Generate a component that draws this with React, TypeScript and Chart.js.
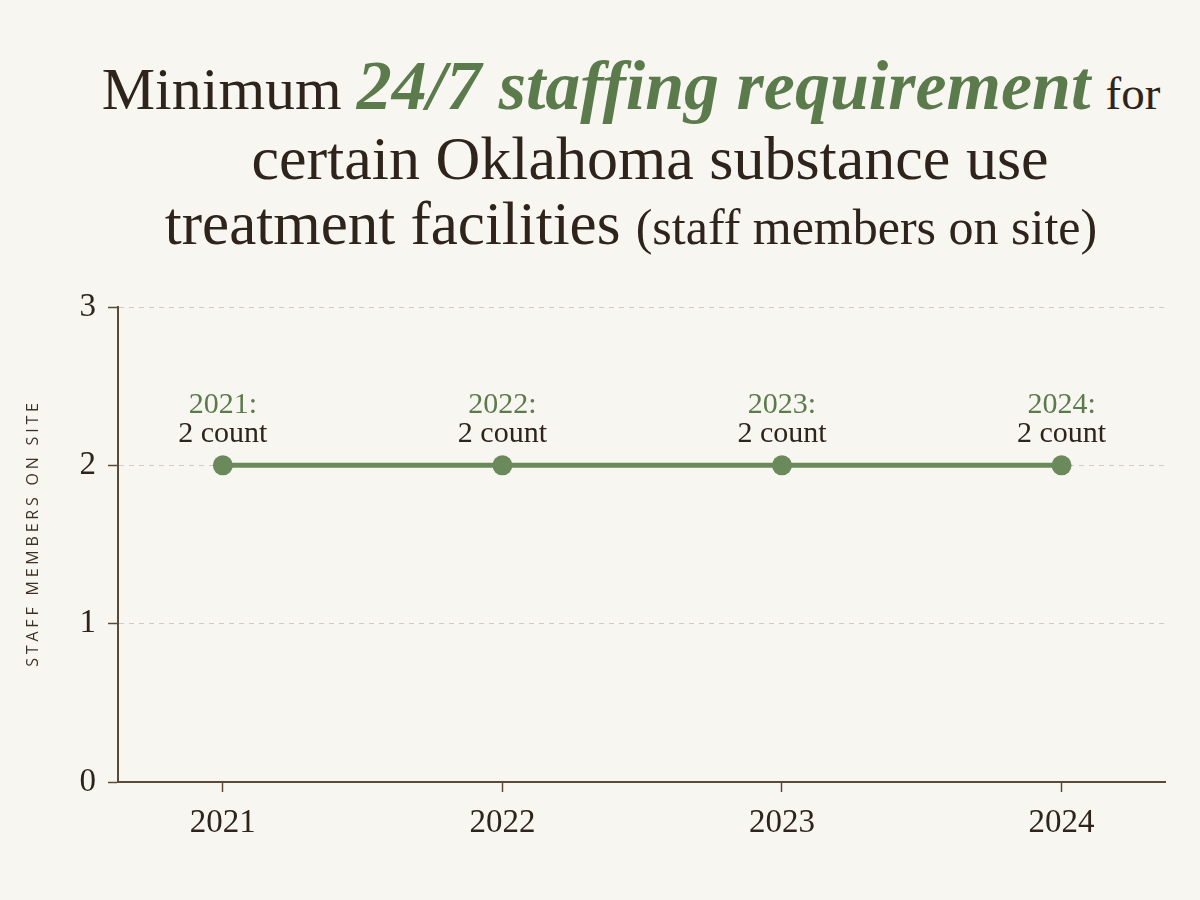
import { useEffect, useRef } from 'react';
import { Chart, registerables } from 'chart.js';

Chart.register(...registerables);

const YEARS = [2021, 2022, 2023, 2024];
const STAFF = [2, 2, 2, 2];
const Y_TICKS = [0, 1, 2, 3];
const UNIT = 'count';
const Y_TITLE = 'STAFF MEMBERS ON SITE';

const BG = '#f8f6f1';
const INK = '#2e241c';
const AXIS = '#5b4a38';
const GREEN = '#6b8a5b';
const GREEN_TEXT = '#5b7b4c';
const SERIF = '"Liberation Serif", "DejaVu Serif", serif';

// "2021:" / "2 count" labels above each point
const pointLabels = {
  id: 'pointLabels',
  afterDatasetsDraw(chart: any) {
    const ctx = chart.ctx;
    const meta = chart.getDatasetMeta(0);
    meta.data.forEach((pt: any, i: number) => {
      ctx.save();
      ctx.textAlign = 'center';
      ctx.textBaseline = 'alphabetic';
      ctx.font = `30px ${SERIF}`;
      ctx.fillStyle = GREEN_TEXT;
      ctx.fillText(`${YEARS[i]}:`, pt.x, pt.y - 52);
      ctx.fillStyle = INK;
      ctx.fillText(`${STAFF[i]} ${UNIT}`, pt.x, pt.y - 23);
      ctx.restore();
    });
  },
};

// letter-spaced vertical axis title
const yTitle = {
  id: 'yTitle',
  afterDraw(chart: any) {
    const ctx = chart.ctx;
    ctx.save();
    ctx.translate(33, 263);
    ctx.rotate(-Math.PI / 2);
    ctx.font = '16px "Open Sans", "DejaVu Sans", sans-serif';
    (ctx as any).letterSpacing = '3.8px';
    ctx.fillStyle = '#3e3226';
    ctx.textAlign = 'center';
    ctx.textBaseline = 'middle';
    ctx.fillText(Y_TITLE, 0, 0);
    ctx.restore();
  },
};

export default function App() {
  const ref = useRef<HTMLCanvasElement>(null);
  const chart = useRef<Chart | null>(null);

  useEffect(() => {
    document.body.style.margin = '0';
    document.body.style.background = BG;
    if (!ref.current) return;

    chart.current?.destroy();
    chart.current = new Chart(ref.current, {
      type: 'line',
      data: {
        datasets: [
          {
            data: YEARS.map((y, i) => ({ x: y, y: STAFF[i] })),
            borderColor: GREEN,
            backgroundColor: GREEN,
            borderWidth: 5,
            pointRadius: 10,
            pointBorderWidth: 0,
            pointBackgroundColor: GREEN,
            tension: 0,
            fill: false,
          },
        ],
      },
      options: {
        responsive: false,
        animation: false,
        layout: { padding: { top: 37, right: 35, left: 0, bottom: 0 } },
        plugins: {
          legend: { display: false },
          tooltip: { enabled: false },
          title: { display: false },
        },
        scales: {
          x: {
            type: 'linear',
            min: 2020.625,
            max: 2024.37,
            afterBuildTicks: (s: any) => { s.ticks = YEARS.map((v) => ({ value: v })); },
            afterFit: (s: any) => { s.height = 118; },
            grid: {
              drawOnChartArea: false,
              drawTicks: true,
              tickLength: 10,
              tickColor: AXIS,
              tickWidth: 1.5,
            },
            border: { color: AXIS, width: 2 },
            ticks: {
              color: INK,
              font: { family: SERIF, size: 33 },
              padding: 12,
              maxRotation: 0,
              callback: (v: any) => String(v),
            },
          },
          y: {
            min: 0,
            max: 3,
            afterBuildTicks: (s: any) => { s.ticks = Y_TICKS.map((v) => ({ value: v })); },
            afterFit: (s: any) => { s.width = 118; },
            grid: {
              color: '#d0cbc1',
              lineWidth: 1,
              tickLength: 10,
              tickColor: AXIS,
              tickWidth: 1.5,
              tickBorderDash: [],
            } as any,
            border: { color: AXIS, width: 2, dash: [5, 5] },
            ticks: {
              color: INK,
              font: { family: SERIF, size: 33 },
              padding: 12,
              callback: (v: any) => String(v),
            },
          },
        },
      },
      plugins: [pointLabels, yTitle],
    });

    return () => { chart.current?.destroy(); };
  }, []);

  const line: any = {
    whiteSpace: 'nowrap',
    textAlign: 'center',
  };

  return (
    <div style={{ width: 1200, height: 900, background: BG, fontFamily: SERIF, color: INK }}>
      <div style={{ height: 270, paddingTop: 46, boxSizing: 'border-box', paddingLeft: 62 }}>
        <div style={{ ...line, fontSize: 60, height: 80, lineHeight: '80px' }}>
          Minimum{' '}
          <span style={{ color: GREEN_TEXT, fontStyle: 'italic', fontWeight: 700, fontSize: 70 }}>
            24/7 staffing requirement
          </span>{' '}
          <span style={{ fontSize: 47 }}>for</span>
        </div>
        <div style={{ ...line, fontSize: 62, height: 64, lineHeight: '64px', paddingLeft: 38 }}>
          certain Oklahoma substance use
        </div>
        <div style={{ ...line, fontSize: 61, height: 68, lineHeight: '68px' }}>
          treatment facilities <span style={{ fontSize: 50 }}>(staff members on site)</span>
        </div>
      </div>
      <canvas ref={ref} width={1200} height={630} style={{ display: 'block', width: 1200, height: 630 }} />
    </div>
  );
}
